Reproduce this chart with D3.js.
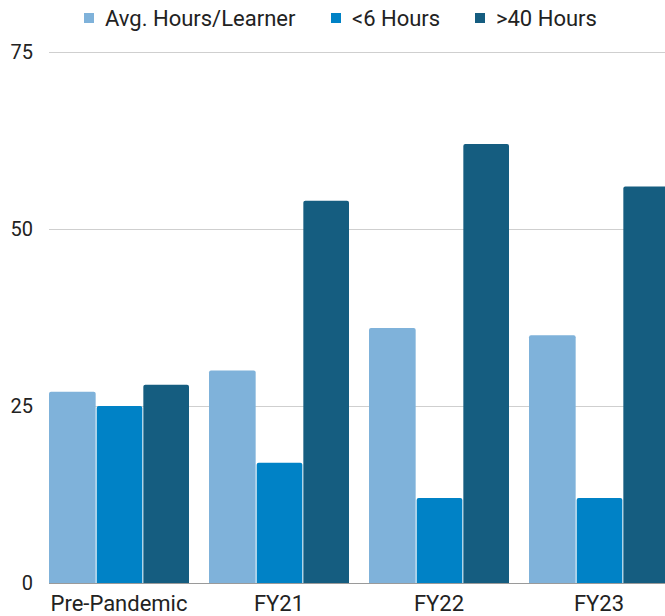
<!DOCTYPE html>
<html>
<head>
<meta charset="utf-8">
<script src="https://cdn.jsdelivr.net/npm/d3@7"></script>
<style>
  html, body { margin: 0; padding: 0; background: #fff; overflow: hidden; }
  text { font-family: Roboto, "Noto Sans", sans-serif; fill: #222; }
</style>
</head>
<body>
<div id="chart"></div>
<script>
// chart data
const categories = ["Pre-Pandemic", "FY21", "FY22", "FY23"];
const seriesNames = ["Avg. Hours/Learner", "<6 Hours", ">40 Hours"];
const avgHours = [27, 30, 36, 35];
const under6 = [25, 17, 12, 12];
const over40 = [28, 54, 62, 56];
const yTicks = [0, 25, 50, 75];

const colors = ["#7fb2da", "#0082c6", "#155d80"];
const width = 665, height = 616;

const svg = d3.select("#chart").append("svg")
    .attr("width", width)
    .attr("height", height);

//plot area; the last group runs past the right edge like in the original
const plotLeft = 49, plotTop = 52, plotBottom = 583;
const step = 160, gap = 0.125;

const x0 = d3.scaleBand()
    .domain(categories)
    .range([plotLeft, plotLeft + step * (categories.length - gap)])
    .paddingInner(gap)
    .paddingOuter(0);

const x1 = d3.scaleBand()
    .domain(seriesNames)
    .range([0, x0.bandwidth()]);

const y = d3.scaleLinear().domain([0, 75]).range([plotBottom, plotTop]);

// gridlines
svg.append("g").selectAll("line")
    .data(yTicks)
    .join("line")
    .attr("x1", plotLeft).attr("x2", width)
    .attr("y1", d => y(d) + 0.5).attr("y2", d => y(d) + 0.5)
    .attr("stroke", d => d == 0 ? "#9a9a9a" : "#cfcfcf")
    .attr("stroke-width", 1);

// y labels
svg.append("g").selectAll("text")
    .data(yTicks)
    .join("text")
    .attr("x", 33)
    .attr("y", d => y(d))
    .attr("dy", "0.35em")
    .attr("text-anchor", "end")
    .attr("font-size", 20)
    .text(d => d);

// bars
const rows = categories.map((c, i) => ({
    cat: c,
    vals: [avgHours[i], under6[i], over40[i]]
}));

const groups = svg.append("g").selectAll("g")
    .data(rows)
    .join("g")
    .attr("transform", d => `translate(${x0(d.cat)},0)`);

groups.selectAll("path")
    .data(d => d.vals.map((v, k) => ({name: seriesNames[k], v: v, k: k})))
    .join("path")
    .attr("fill", d => colors[d.k])
    .attr("d", d => {
        const bx = x1(d.name) + (d.k > 0 ? 1 : 0);
        const bw = x1.bandwidth() - (d.k > 0 ? 1 : 0);
        const by = y(d.v), bh = plotBottom - y(d.v);
        const r = 2;
        return `M${bx},${by + bh}V${by + r}Q${bx},${by} ${bx + r},${by}` +
            `H${bx + bw - r}Q${bx + bw},${by} ${bx + bw},${by + r}V${by + bh}Z`;
    });

// x labels
svg.append("g").selectAll("text")
    .data(categories)
    .join("text")
    .attr("x", d => x0(d) + x0.bandwidth() / 2)
    .attr("y", 611)
    .attr("text-anchor", "middle")
    .attr("font-size", 22)
    .text(d => d);

// legend
const legendX = [84, 331, 475];
const legend = svg.append("g").selectAll("g")
    .data(seriesNames)
    .join("g")
    .attr("transform", (d, i) => `translate(${legendX[i]},0)`);

legend.append("rect")
    .attr("x", 0).attr("y", 13)
    .attr("width", 10).attr("height", 10)
    .attr("fill", (d, i) => colors[i]);

legend.append("text")
    .attr("x", 21)
    .attr("y", 18)
    .attr("dy", "0.35em")
    .attr("font-size", 22)
    .text(d => d);
</script>
</body>
</html>
